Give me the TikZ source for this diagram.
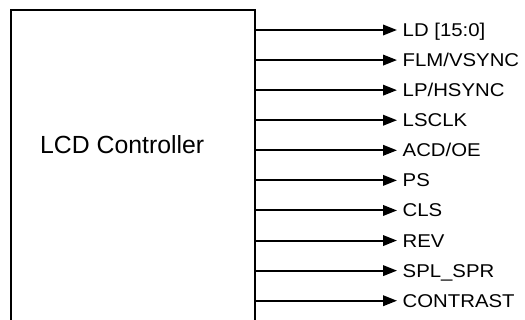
\documentclass[tikz,border=0pt]{standalone}
\usepackage{fontspec}
\setmainfont{Liberation Sans}
\newfontfamily\lblfont[FakeStretch=1.1]{Liberation Sans}
\usetikzlibrary{arrows.meta}
\begin{document}
\begin{tikzpicture}[x=1pt,y=-1pt,
  boxstyle/.style={draw, line width=2pt, rectangle, inner sep=0pt, anchor=north west},
  sig/.style={line width=2pt, -{Triangle[length=14pt,width=10.5pt]}},
  sigtext/.style={anchor=base west, inner sep=0pt, font=\lblfont\fontsize{18.5}{20}\selectfont},
  title/.style={anchor=base west, inner sep=0pt, font=\fontsize{24.8}{28}\selectfont}]
\clip (0,0) rectangle (525,320);
\node[boxstyle, minimum width=244.3pt, minimum height=360pt] (ctrl) at (10,9.3) {};
\node[title] (name) at (40,154) {LCD Controller};
\foreach \i/\t in {0/{LD [15:0]},1/{FLM/VSYNC},2/{LP/HSYNC},3/{LSCLK},4/{ACD/OE},5/{PS},6/{CLS},7/{REV},8/{SPL\_SPR},9/{CONTRAST}}{
  \coordinate (t\i) at (397,{30+30.08*\i});
  \node[sigtext] (s\i) at ([xshift=5.5pt,yshift=-6.5pt]t\i) {\t};
  \draw[sig] (ctrl.east |- t\i) -- (t\i);
}
\end{tikzpicture}
\end{document}
